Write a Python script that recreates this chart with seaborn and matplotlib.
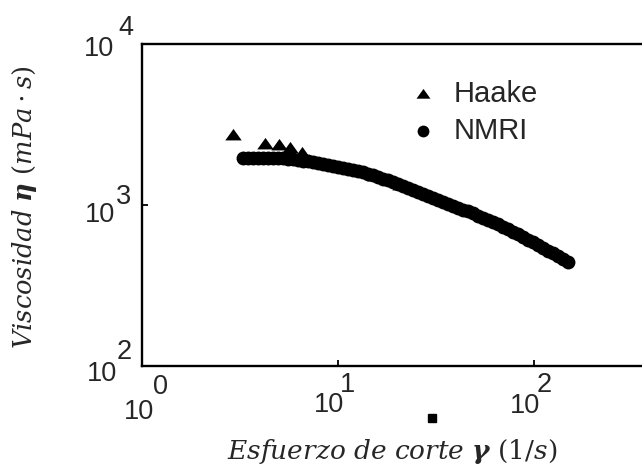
import numpy as np
import pandas as pd
import seaborn as sns
import matplotlib
matplotlib.use("Agg")
import matplotlib.pyplot as plt
from matplotlib.markers import MarkerStyle
from matplotlib.patches import Rectangle

# Shear rate (1/s) and viscosity (mPa·s), Haake rheometer
haake_rate = [2.91, 4.24, 5.00, 5.69, 6.55, 7.63, 9.10, 11.51, 15.45, 20.72]
haake_visc = [2705, 2380, 2360, 2258, 2103, 1840, 1760, 1670, 1510, 1330]

# Shear rate (1/s) and viscosity (mPa·s), NMRI
nmri_rate = [3.28, 3.47, 3.68, 3.91, 4.14, 4.39, 4.66, 4.94, 5.24, 5.56,
             5.89, 6.25, 6.63, 7.03, 7.46, 7.91, 8.38, 8.89, 9.43, 10.0,
             10.60, 11.25, 11.93, 12.65, 13.42, 14.23, 15.09, 16.00, 16.97, 17.99,
             19.08, 20.24, 21.46, 22.76, 24.14, 25.60, 27.15, 28.79, 30.53, 32.37,
             34.33, 36.40, 38.61, 40.94, 43.43, 46.06, 48.84, 51.80, 54.93, 58.25,
             61.78, 65.51, 69.47, 73.68, 78.15, 82.87, 87.88, 93.20, 98.83, 104.8,
             111.1, 117.9, 125.0, 132.6, 140.6, 149.1]
nmri_visc = [1950, 1950, 1950, 1950, 1950, 1950, 1950, 1950, 1950, 1933,
             1917, 1901, 1885, 1866, 1850, 1827, 1801, 1776, 1751, 1726,
             1702, 1678, 1650, 1622, 1592, 1565, 1530, 1494, 1455, 1421,
             1382, 1344, 1306, 1270, 1234, 1199, 1166, 1133, 1102, 1071,
             1041, 1011, 985, 960, 937, 914, 887, 859, 833, 806,
             781, 757, 733, 710, 684, 658, 633, 609, 585, 563,
             541, 521, 501, 482, 463, 445]

series_names = ["Haake", "NMRI"]
x_decades = [0, 1, 2]
y_decades = [2, 3, 4]

sns.set_style("white")
plt.rcParams["font.family"] = ["Liberation Sans", "DejaVu Sans"]
plt.rcParams["mathtext.fontset"] = "dejavuserif"

haake = pd.DataFrame({"rate": haake_rate, "visc": haake_visc})
nmri = pd.DataFrame({"rate": nmri_rate, "visc": nmri_visc})

W, H = 642, 470
fig = plt.figure(figsize=(W / 100, H / 100), dpi=100)
# axes box: left edge at 142 px, bottom at 366 px, top at 44 px; right side runs past the figure
ax = fig.add_axes([142 / W, (H - 366) / H, 588 / W, (366 - 44) / H])

tri = MarkerStyle([(-1.0, -0.6), (1.0, -0.6), (0.0, 0.8), (-1.0, -0.6)])
sns.scatterplot(data=haake, x="rate", y="visc", ax=ax, marker=tri, s=140,
                color="black", linewidth=0, label=series_names[0])
sns.scatterplot(data=nmri, x="rate", y="visc", ax=ax, marker="o", s=100,
                color="black", linewidth=0, label=series_names[1])

ax.set_xscale("log")
ax.set_yscale("log")
ax.set_xlim(10 ** x_decades[0], 1000)
ax.set_ylim(10 ** y_decades[0], 10 ** y_decades[-1])
ax.xaxis.set_minor_locator(matplotlib.ticker.NullLocator())
ax.yaxis.set_minor_locator(matplotlib.ticker.NullLocator())
ax.set_xticks([10 ** d for d in x_decades])
ax.set_yticks([10 ** d for d in y_decades])
ax.tick_params(which="major", direction="in", length=4, width=1.3,
               color="black", labelbottom=False, labelleft=False,
               bottom=True, left=True)
for s in ax.spines.values():
    s.set_color("black")
    s.set_linewidth(1.7)
ax.set_xlabel("")
ax.set_ylabel("")

# decade labels drawn as "10" with a full-size exponent
tick_fs = 19.5
px = 72 / 100  # points per pixel
xoff = {0: ((-3, -46), (19, -21)), 1: ((-9, -39), (9, -19)), 2: ((-9, -40), (10, -19))}
for d in x_decades:
    (bx, by), (ex, ey) = xoff[d]
    ax.annotate("10", xy=(10 ** d, 10 ** y_decades[0]), xycoords="data",
                xytext=(bx * px, by * px), textcoords="offset points",
                ha="center", va="center", fontsize=tick_fs, annotation_clip=False)
    ax.annotate(str(d), xy=(10 ** d, 10 ** y_decades[0]), xycoords="data",
                xytext=(ex * px, ey * px), textcoords="offset points",
                ha="center", va="center", fontsize=tick_fs, annotation_clip=False)
yoff = {2: ((-40, -8), (-18, 14)), 3: ((-42, -10), (-18, 8)), 4: ((-43, -5), (-16, 16))}
for d in y_decades:
    (bx, by), (ex, ey) = yoff[d]
    ax.annotate("10", xy=(10 ** x_decades[0], 10 ** d), xycoords="data",
                xytext=(bx * px, by * px), textcoords="offset points",
                ha="center", va="center", fontsize=tick_fs, annotation_clip=False)
    ax.annotate(str(d), xy=(10 ** x_decades[0], 10 ** d), xycoords="data",
                xytext=(ex * px, ey * px), textcoords="offset points",
                ha="center", va="center", fontsize=tick_fs, annotation_clip=False)

# axis titles
fig.text(392 / W, 1 - 452 / H, r"$Esfuerzo\ de\ corte\ \boldsymbol{\gamma}\ (1/s)$",
         ha="center", va="center", fontsize=19)
fig.text(25 / W, 1 - 207 / H, r"$Viscosidad\ \boldsymbol{\eta}\ (mPa\cdot s)$",
         ha="center", va="center", fontsize=18.5, rotation=90)

# stray mark under the x axis
fig.patches.append(Rectangle((428 / W, 1 - 422 / H), 8 / W, 8 / H,
                             transform=fig.transFigure, color="black"))

leg = ax.legend(loc="upper left", bbox_to_anchor=(414 / W, 1 - 80 / H),
                bbox_transform=fig.transFigure, frameon=False, fontsize=21,
                handlelength=0.6, handletextpad=0.75, labelspacing=0.3,
                borderpad=0, borderaxespad=0, markerscale=0.85)

fig.savefig("out.png", dpi=100, facecolor="white")
